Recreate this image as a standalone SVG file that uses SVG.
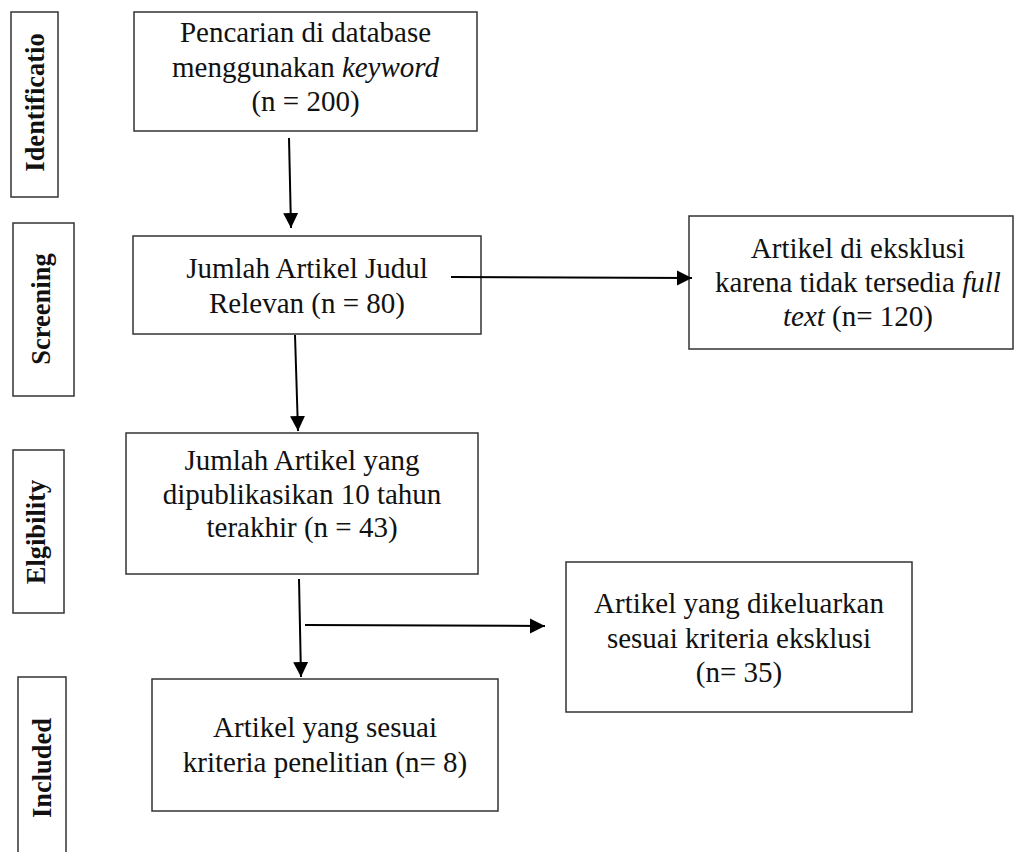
<svg xmlns="http://www.w3.org/2000/svg" width="1014" height="852" viewBox="0 0 1014 852">
<style>
  .box { fill: #ffffff; stroke: #333333; stroke-width: 1.5; }
  .t { font-family: "Liberation Serif", "Times New Roman", serif; font-size: 29px; fill: #111111; text-anchor: middle; }
  .lbl { font-family: "Liberation Serif", "Times New Roman", serif; font-size: 26.5px; font-weight: bold; fill: #111111; text-anchor: middle; }
  .it { font-style: italic; }
  .conn { stroke: #000000; stroke-width: 2; fill: none; }
</style>
<defs>
  <marker id="arrow" markerUnits="userSpaceOnUse" markerWidth="16" markerHeight="16" refX="15" refY="8" orient="auto">
    <path d="M0,0.5 L15,8 L0,15.5 Z" fill="#000000"/>
  </marker>
</defs>
<rect x="0" y="0" width="1014" height="852" fill="#ffffff"/>

<g id="label-identification">
  <rect class="box" x="11" y="12" width="47" height="185"/>
  <text class="lbl" transform="translate(44,102.5) rotate(-90)">Identificatio</text>
</g>
<g id="label-screening">
  <rect class="box" x="13" y="223" width="61" height="173"/>
  <text class="lbl" transform="translate(50,309) rotate(-90)">Screening</text>
</g>
<g id="label-eligibility">
  <rect class="box" x="13" y="450" width="51" height="163"/>
  <text class="lbl" transform="translate(45,532) rotate(-90)">Elgibility</text>
</g>
<g id="label-included">
  <rect class="box" x="18" y="677" width="48" height="190"/>
  <text class="lbl" transform="translate(51,768) rotate(-90)">Included</text>
</g>

<g id="node-search">
  <rect class="box" x="134" y="12" width="343" height="119"/>
  <text class="t" x="305.5" y="42">Pencarian di database</text>
  <text class="t" x="305.5" y="76.5">menggunakan <tspan class="it">keyword</tspan></text>
  <text class="t" x="305.5" y="111">(n = 200)</text>
</g>
<g id="node-screening">
  <rect class="box" x="133" y="236" width="348" height="98"/>
  <text class="t" x="307" y="278">Jumlah Artikel Judul</text>
  <text class="t" x="307" y="313">Relevan (n = 80)</text>
</g>
<g id="node-excluded-fulltext">
  <rect class="box" x="689" y="216" width="324" height="133"/>
  <text class="t" x="858" y="258">Artikel di eksklusi</text>
  <text class="t" x="858" y="292">karena tidak tersedia <tspan class="it">full</tspan></text>
  <text class="t" x="858" y="326"><tspan class="it">text</tspan> (n= 120)</text>
</g>
<g id="node-eligibility">
  <rect class="box" x="126" y="433" width="352" height="141"/>
  <text class="t" x="302" y="470">Jumlah Artikel yang</text>
  <text class="t" x="302" y="503.5">dipublikasikan 10 tahun</text>
  <text class="t" x="302" y="537">terakhir (n = 43)</text>
</g>
<g id="node-excluded-criteria">
  <rect class="box" x="566" y="562" width="346" height="150"/>
  <text class="t" x="739" y="613">Artikel yang dikeluarkan</text>
  <text class="t" x="739" y="647.5">sesuai kriteria eksklusi</text>
  <text class="t" x="739" y="682">(n= 35)</text>
</g>
<g id="node-included">
  <rect class="box" x="152" y="679" width="346" height="132"/>
  <text class="t" x="325" y="737">Artikel yang sesuai</text>
  <text class="t" x="325" y="772">kriteria penelitian (n= 8)</text>
</g>

<g id="connectors">
  <line class="conn" x1="289" y1="138" x2="291" y2="228" marker-end="url(#arrow)"/>
  <line class="conn" x1="451" y1="277" x2="692" y2="278" marker-end="url(#arrow)"/>
  <line class="conn" x1="295" y1="335" x2="298" y2="431" marker-end="url(#arrow)"/>
  <line class="conn" x1="299" y1="579" x2="301" y2="677" marker-end="url(#arrow)"/>
  <line class="conn" x1="305" y1="625" x2="545" y2="626" marker-end="url(#arrow)"/>
</g>
</svg>
